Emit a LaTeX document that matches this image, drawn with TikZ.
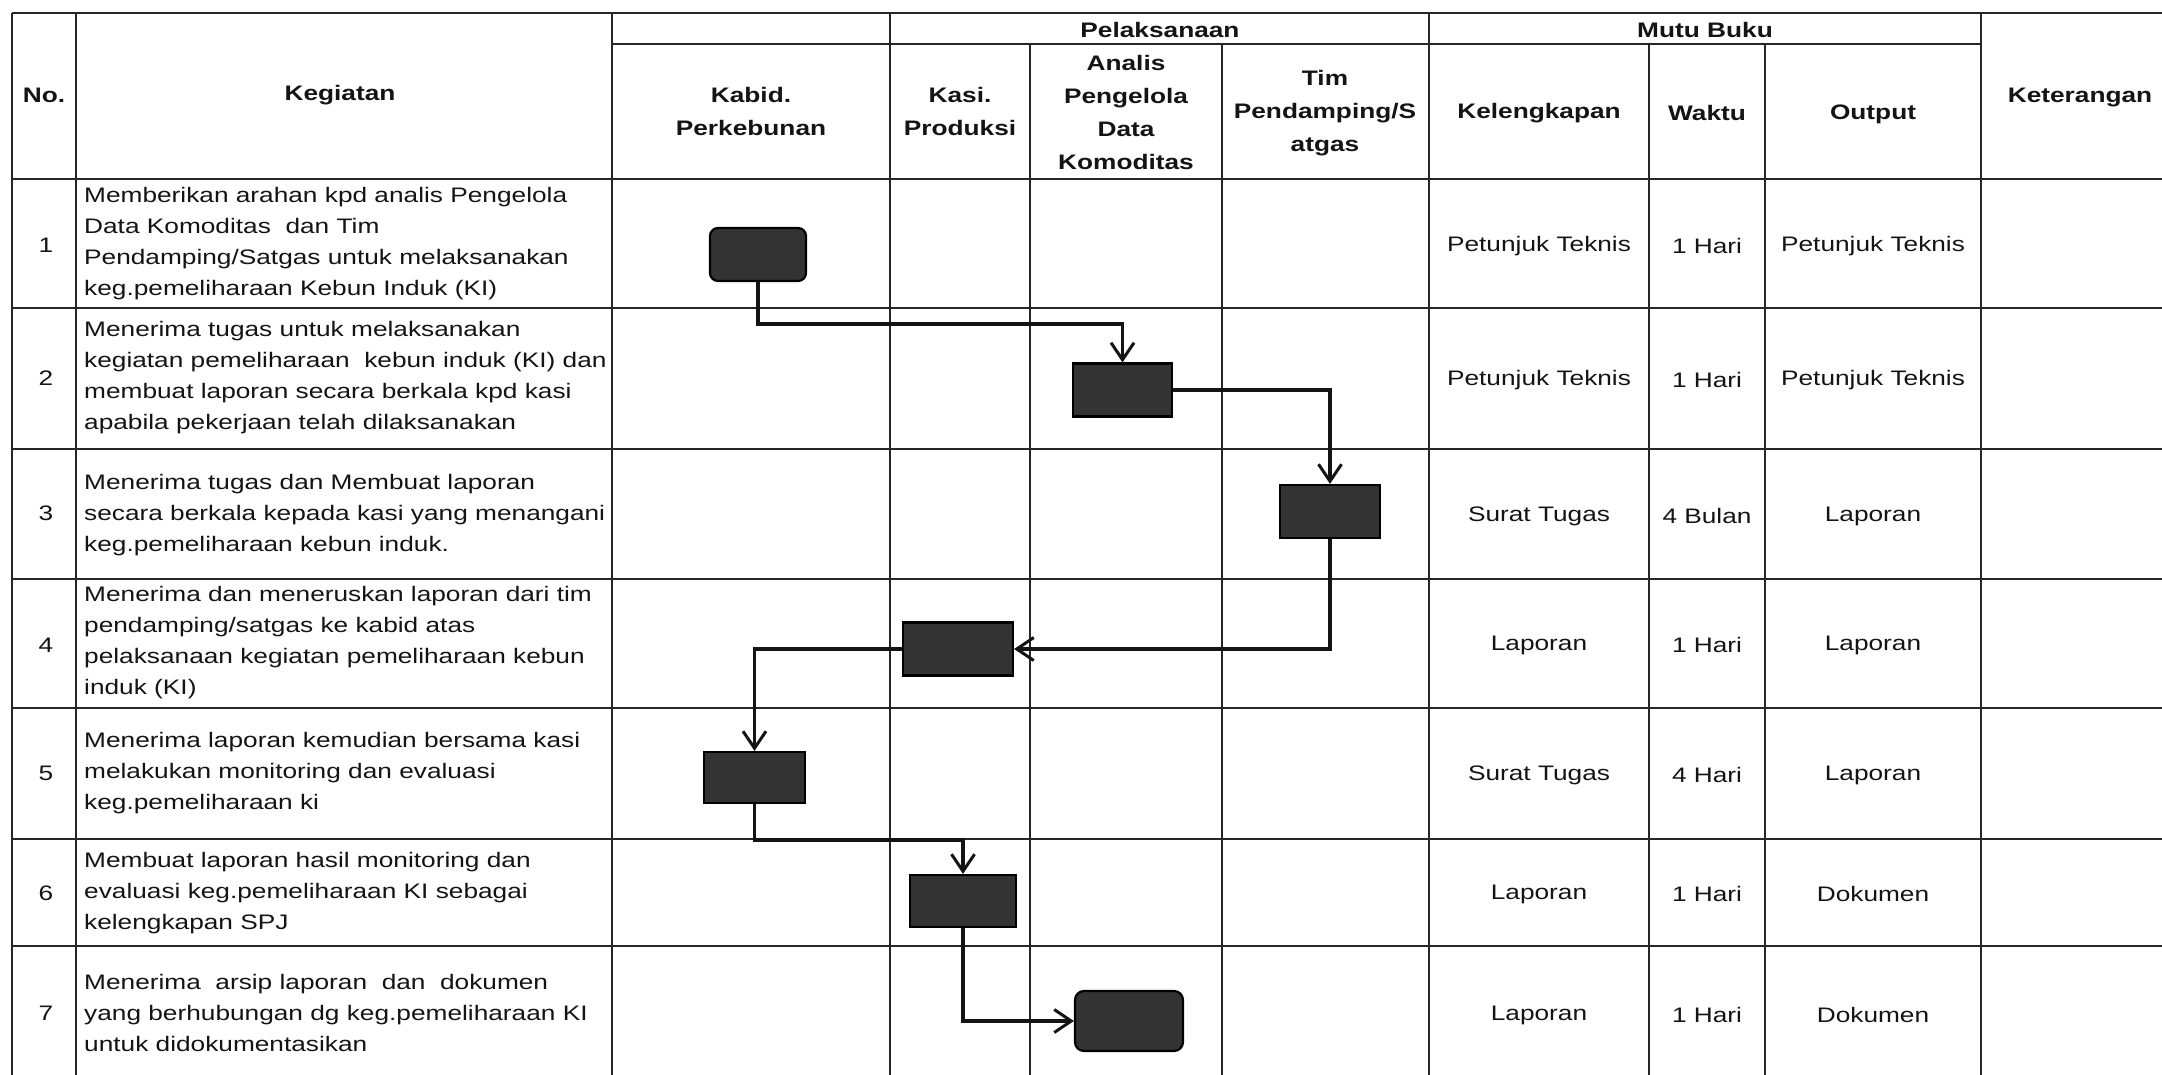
\documentclass[tikz,border=0pt]{standalone}
\usepackage{fontspec}
\setmainfont{Liberation Sans}[FakeStretch=1.25]
\usetikzlibrary{arrows.meta}
\begin{document}
\begin{tikzpicture}[x=1pt,y=-1pt,
  grid/.style={line width=1.6pt, draw=black!85},
  body/.style={font=\fontsize{21}{31}\selectfont, text=black!92, inner sep=0pt},
  head/.style={font=\fontsize{21}{33}\selectfont\bfseries, text=black!92, inner sep=0pt, align=center},
  act/.style={body, anchor=west, align=left},
  proc/.style={draw=black, line width=2.2pt, fill=black!80, minimum height=53pt, inner sep=0pt},
  flow/.style={line width=3.6pt, draw=black!92, -{Straight Barb[length=17pt,width=23pt,line width=3pt]}}
]
\useasboundingbox (0,0) rectangle (2162,1075);
\fill[white] (0,0) rectangle (2162,1075);

% ---------- table grid ----------
\draw[grid] (12,13) -- (2162,13);
\draw[grid] (612,44) -- (1981,44);
\foreach \yy in {179,308,449,579,708,839,946}
  \draw[grid] (12,\yy) -- (2162,\yy);
\foreach \xx in {12,76,612,890,1429,1981}
  \draw[grid] (\xx,13) -- (\xx,1075);
\foreach \xx in {1030,1222,1649,1765}
  \draw[grid] (\xx,44) -- (\xx,1075);

% ---------- header ----------
\node[head] (hno)  at (44,95)   {No.};
\node[head] (hkeg) at (340,95)  {Kegiatan};
\node[head] (hpel) at (1160,30) {Pelaksanaan};
\node[head] (hmut) at (1705,30) {Mutu Buku};
\node[head] (hkab) at (751,111) {Kabid.\\Perkebunan};
\node[head] (hkas) at (960,111) {Kasi.\\Produksi};
\node[head] (hana) at (1126,112) {Analis\\Pengelola\\Data\\Komoditas};
\node[head] (htim) at (1325,113) {Tim\\Pendamping/S\\atgas};
\node[head] (hkel) at (1539,113) {Kelengkapan};
\node[head] (hwak) at (1707,113) {Waktu};
\node[head] (hout) at (1873,114) {Output};
\node[head] (hket) at (2080,98) {Keterangan};

% ---------- numbers ----------
\node[body] (n1) at (46,245) {1};
\node[body] (n2) at (46,378) {2};
\node[body] (n3) at (46,513) {3};
\node[body] (n4) at (46,645) {4};
\node[body] (n5) at (46,773) {5};
\node[body] (n6) at (46,893) {6};
\node[body] (n7) at (46,1013) {7};

% ---------- activities ----------
\node[act] (k1) at (84,244) {Memberikan arahan kpd analis Pengelola\\Data Komoditas~ dan Tim\\Pendamping/Satgas untuk melaksanakan\\keg.pemeliharaan Kebun Induk (KI)};
\node[act] (k2) at (84,378) {Menerima tugas untuk melaksanakan\\kegiatan pemeliharaan~ kebun induk (KI) dan\\membuat laporan secara berkala kpd kasi\\apabila pekerjaan telah dilaksanakan};
\node[act] (k3) at (84,515) {Menerima tugas dan Membuat laporan\\secara berkala kepada kasi yang menangani\\keg.pemeliharaan kebun induk.};
\node[act] (k4) at (84,643) {Menerima dan meneruskan laporan dari tim\\pendamping/satgas ke kabid atas\\pelaksanaan kegiatan pemeliharaan kebun\\induk (KI)};
\node[act] (k5) at (84,773) {Menerima laporan kemudian bersama kasi\\melakukan monitoring dan evaluasi\\keg.pemeliharaan ki};
\node[act] (k6) at (84,893) {Membuat laporan hasil monitoring dan\\evaluasi keg.pemeliharaan KI sebagai\\kelengkapan SPJ};
\node[act] (k7) at (84,1013) {Menerima~ arsip laporan~ dan~ dokumen\\yang berhubungan dg keg.pemeliharaan KI\\untuk didokumentasikan};

% ---------- mutu buku ----------
\node[body] (m1a) at (1539,246) {Petunjuk Teknis};
\node[body] (m1b) at (1707,246) {1 Hari};
\node[body] (m1c) at (1873,246) {Petunjuk Teknis};
\node[body] (m2a) at (1539,380) {Petunjuk Teknis};
\node[body] (m2b) at (1707,380) {1 Hari};
\node[body] (m2c) at (1873,380) {Petunjuk Teknis};
\node[body] (m3a) at (1539,516) {Surat Tugas};
\node[body] (m3b) at (1707,516) {4 Bulan};
\node[body] (m3c) at (1873,516) {Laporan};
\node[body] (m4a) at (1539,645) {Laporan};
\node[body] (m4b) at (1707,645) {1 Hari};
\node[body] (m4c) at (1873,645) {Laporan};
\node[body] (m5a) at (1539,775) {Surat Tugas};
\node[body] (m5b) at (1707,775) {4 Hari};
\node[body] (m5c) at (1873,775) {Laporan};
\node[body] (m6a) at (1539,894) {Laporan};
\node[body] (m6b) at (1707,894) {1 Hari};
\node[body] (m6c) at (1873,894) {Dokumen};
\node[body] (m7a) at (1539,1015) {Laporan};
\node[body] (m7b) at (1707,1015) {1 Hari};
\node[body] (m7c) at (1873,1015) {Dokumen};

% ---------- flow boxes ----------
\node[proc, minimum width=96pt, rounded corners=8pt] (b1) at (758,254.5) {};
\node[proc, minimum width=99pt] (b2) at (1122.5,390) {};
\node[proc, minimum width=100pt] (b3) at (1330,511.5) {};
\node[proc, minimum width=110pt] (b4) at (958,649) {};
\node[proc, minimum width=101pt, minimum height=51pt] (b5) at (754.5,777.5) {};
\node[proc, minimum width=106pt, minimum height=52pt] (b6) at (963,901) {};
\node[proc, minimum width=108pt, minimum height=60pt, rounded corners=9pt] (b7) at (1129,1021) {};

% ---------- connectors ----------
\draw[flow] (b1.south) -- ++(0,42) -| (b2.north);
\draw[flow] (b2.east) -| (b3.north);
\draw[flow] (b3.south) |- (b4.east);
\draw[flow] (b4.west) -| (b5.north);
\draw[flow] (b5.south) -- ++(0,36) -| (b6.north);
\draw[flow] (b6.south) |- (b7.west);
\end{tikzpicture}
\end{document}
